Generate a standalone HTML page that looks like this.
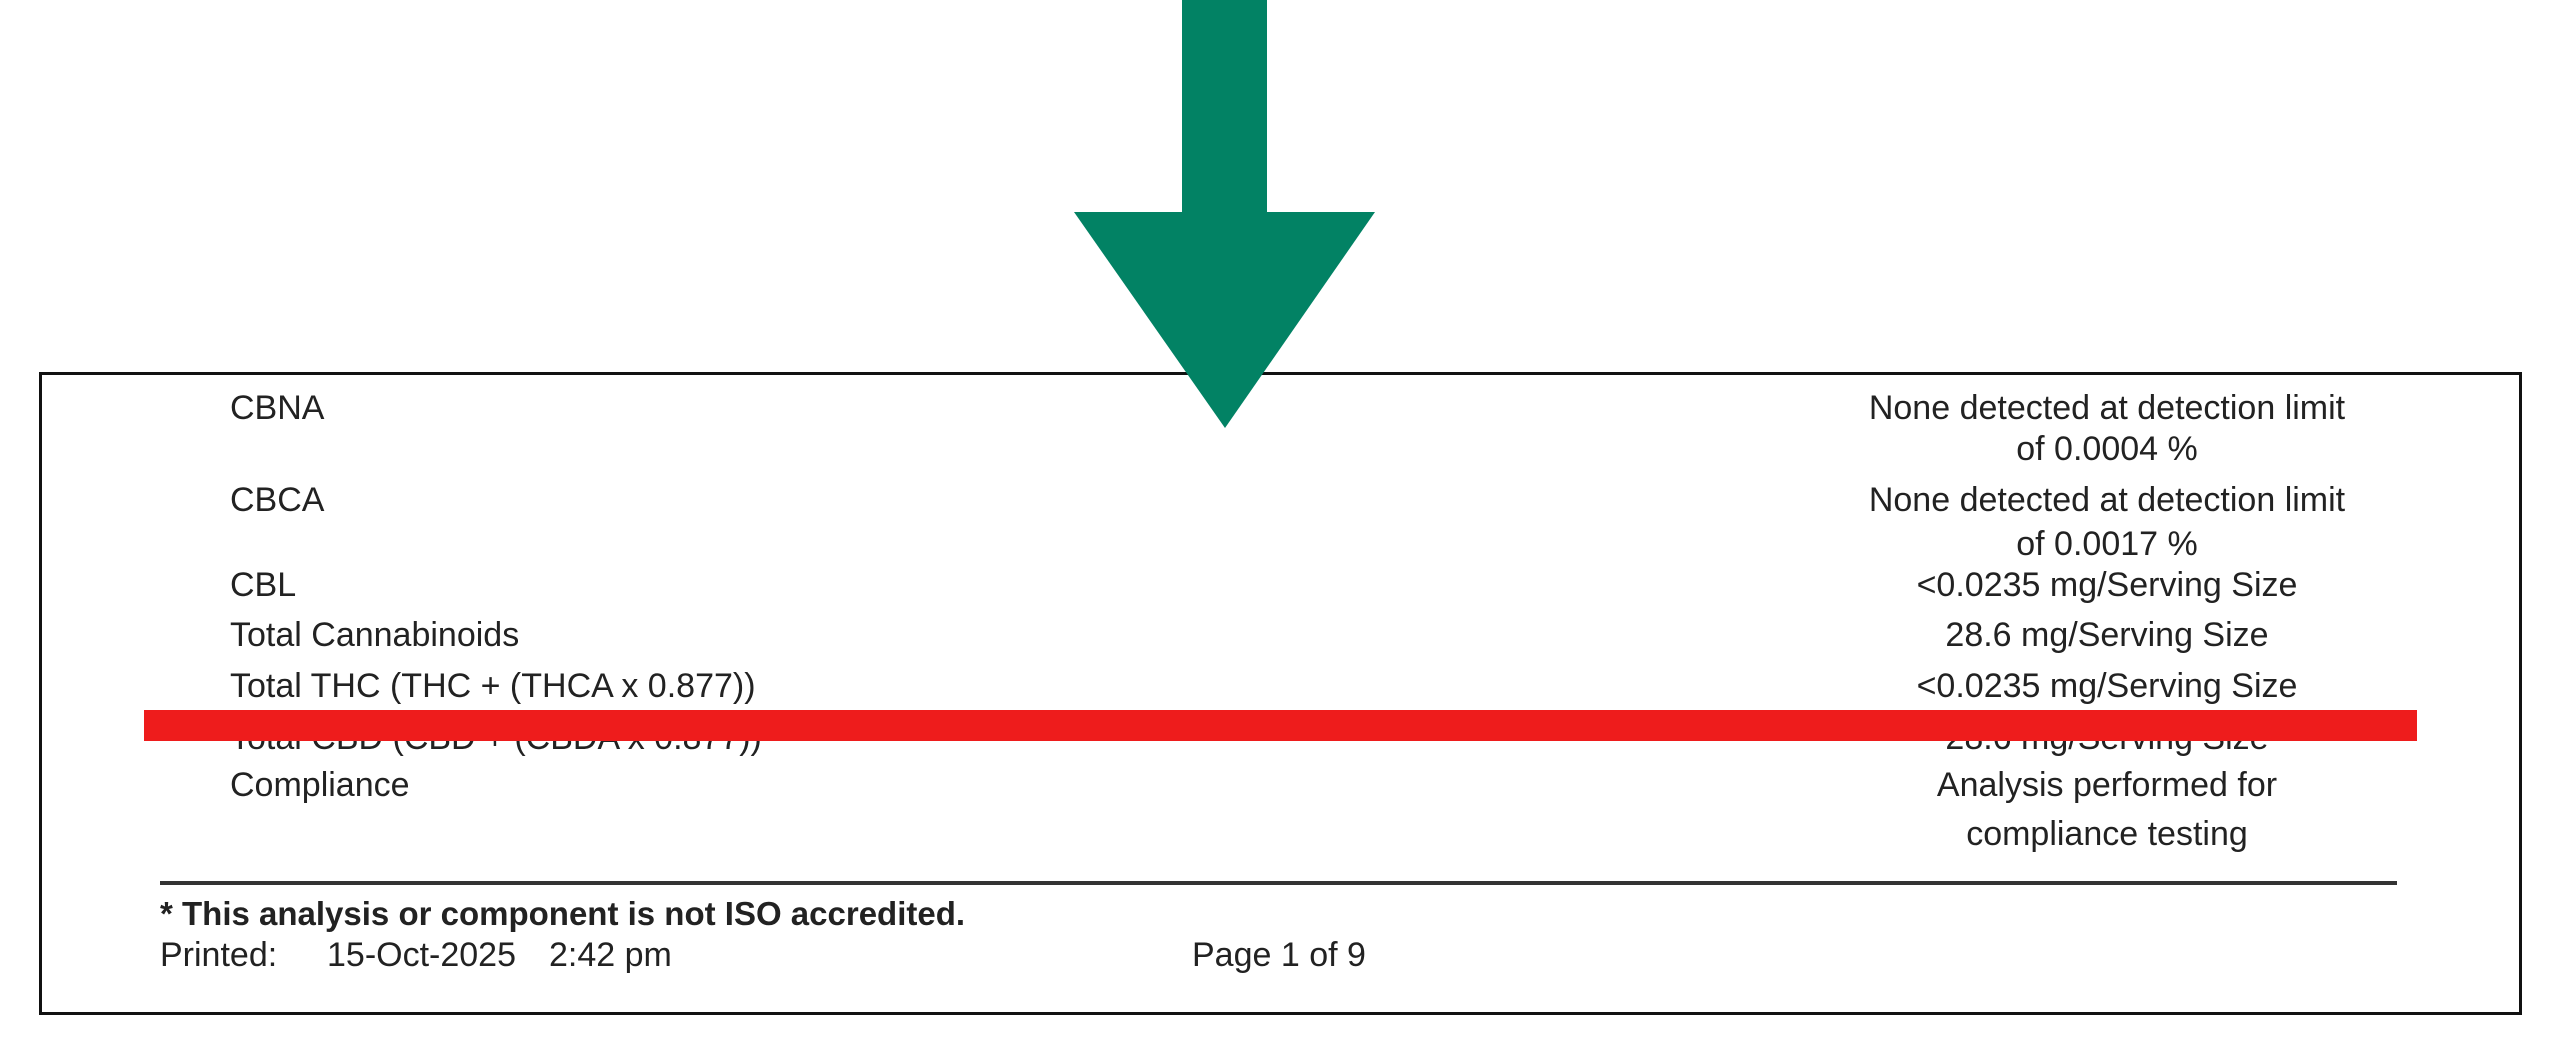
<!DOCTYPE html>
<html><head><meta charset="utf-8"><style>
html,body{margin:0;padding:0;background:#fff;}
body{width:2560px;height:1058px;position:relative;overflow:hidden;font-family:"Liberation Sans",sans-serif;color:#222;}
.t{position:absolute;font-size:34px;line-height:40px;white-space:nowrap;}
.r{position:absolute;font-size:34px;line-height:40px;white-space:nowrap;width:800px;left:1707px;text-align:center;}
</style></head><body>
<div style="position:absolute;left:39px;top:372px;width:2477px;height:637px;border:3px solid #111;"></div>

<div class="t" style="left:230px;top:388px;">CBNA</div>
<div class="r" style="top:388px;">None detected at detection limit</div>
<div class="r" style="top:429px;">of 0.0004 %</div>
<div class="t" style="left:230px;top:480px;">CBCA</div>
<div class="r" style="top:480px;">None detected at detection limit</div>
<div class="r" style="top:524px;">of 0.0017 %</div>
<div class="t" style="left:230px;top:565px;">CBL</div>
<div class="r" style="top:565px;">&lt;0.0235 mg/Serving Size</div>
<div class="t" style="left:230px;top:615px;">Total Cannabinoids</div>
<div class="r" style="top:615px;">28.6 mg/Serving Size</div>
<div class="t" style="left:230px;top:666px;">Total THC (THC + (THCA x 0.877))</div>
<div class="r" style="top:666px;">&lt;0.0235 mg/Serving Size</div>
<div class="t" style="left:230px;top:718px;">Total CBD (CBD + (CBDA x 0.877))</div>
<div class="r" style="top:718px;">28.6 mg/Serving Size</div>
<div class="t" style="left:230px;top:765px;">Compliance</div>
<div class="r" style="top:765px;">Analysis performed for</div>
<div class="r" style="top:814px;">compliance testing</div>

<div style="position:absolute;left:144px;top:710px;width:2273px;height:31px;background:#ee1c1c;"></div>

<div style="position:absolute;left:160px;top:881px;width:2237px;height:4px;background:#333;"></div>
<div class="t" style="left:160px;top:894px;font-weight:bold;font-size:33px;">* This analysis or component is not ISO accredited.</div>
<div class="t" style="left:160px;top:935px;">Printed:</div>
<div class="t" style="left:327px;top:935px;">15-Oct-2025</div>
<div class="t" style="left:549px;top:935px;">2:42 pm</div>
<div class="t" style="left:1192px;top:935px;">Page 1 of 9</div>

<svg style="position:absolute;left:0;top:0" width="2560" height="1058">
<rect x="1182" y="0" width="85" height="213" fill="#028264"/>
<polygon points="1074,212 1375,212 1225,428" fill="#028264"/>
</svg>
</body></html>
